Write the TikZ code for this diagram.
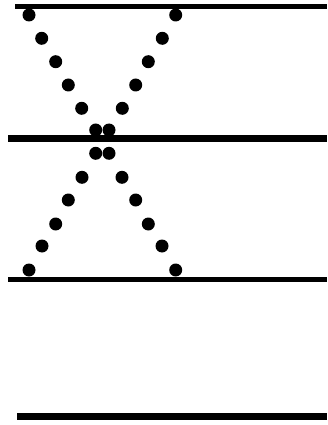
\documentclass[tikz,border=0pt]{standalone}
\usepackage{xcolor}
\usepackage{tikz}

\begin{document}
\begin{tikzpicture}[
    x=0.03cm, y=-0.03cm,
    dot/.style={
        circle,fill=black,
        inner sep=0pt,
        minimum size=0.39cm
    },
    bar/.style={line width=0.15cm},
    thickbar/.style={line width=0.2cm}
]
\useasboundingbox (0,0) rectangle (327,425);

% horizontal bars
\draw[bar] (15,7) -- (327,7);
\draw[thickbar] (8,138.5) -- (327,138.5);
\draw[bar] (8,279) -- (327,279);
\draw[thickbar] (17,416.5) -- (327,416.5);

% crossing rows of dots
\foreach \i/\xl/\xr/\yy in {0/29/175.7/15, 1/41.7/162.3/38.3, 2/55.7/148.3/61.7,
                            3/68.3/135.7/85, 4/81.7/122.3/108.3, 5/95.7/109/130} {
    \node[dot] (tl\i) at (\xl,\yy) {};
    \node[dot] (tr\i) at (\xr,\yy) {};
}
\foreach \i/\xl/\xr/\yy in {0/95.7/109/153.3, 1/82/122/177.3, 2/68.3/135.7/200,
                            3/55.7/148.3/224, 4/42/162/246, 5/29/175.7/270} {
    \node[dot] (bl\i) at (\xl,\yy) {};
    \node[dot] (br\i) at (\xr,\yy) {};
}
\end{tikzpicture}
\end{document}
